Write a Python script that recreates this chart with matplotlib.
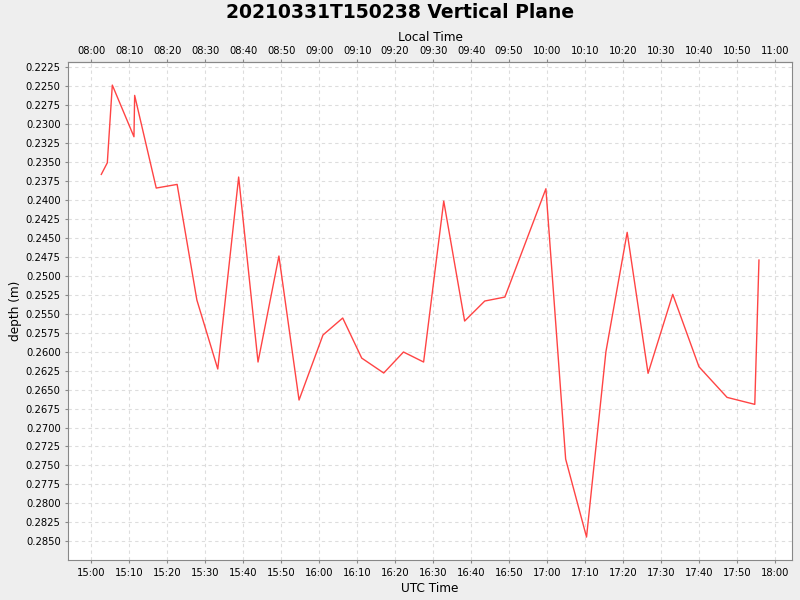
import datetime
import matplotlib
matplotlib.use("Agg")
import matplotlib.pyplot as plt
import matplotlib.dates as mdates

# UTC times of samples and depth values (m)
utc_times = ["15:02:38", "15:04:13", "15:05:32", "15:11:14", "15:11:25", "15:17:06",
             "15:22:36", "15:27:48", "15:33:18", "15:38:48", "15:43:54", "15:49:24",
             "15:54:42", "16:01:00", "16:06:12", "16:11:12", "16:17:00", "16:22:12",
             "16:27:30", "16:32:48", "16:38:18", "16:43:36", "16:48:54", "16:59:42",
             "17:04:54", "17:10:24", "17:15:30", "17:21:06", "17:26:36", "17:33:06",
             "17:40:00", "17:47:24", "17:54:42", "17:55:48"]
depth = [0.23664, 0.23511, 0.22487, 0.23168, 0.22623, 0.23844,
         0.23796, 0.25320, 0.26229, 0.23699, 0.26137, 0.24740,
         0.26638, 0.25781, 0.25557, 0.26085, 0.26282, 0.26005,
         0.26137, 0.24016, 0.25597, 0.25333, 0.25281, 0.23853,
         0.27416, 0.28444, 0.26002, 0.24428, 0.26286, 0.25245,
         0.26199, 0.26603, 0.26695, 0.24793]
y_ticks = [round(0.2225 + 0.0025 * i, 4) for i in range(26)]

base = datetime.datetime(2021, 3, 31)
times = [base + datetime.timedelta(hours=int(s[:2]), minutes=int(s[3:5]), seconds=int(s[6:]))
         for s in utc_times]

plt.rcParams['font.family'] = ['DejaVu Sans']
fig = plt.figure(figsize=(8, 6), dpi=100, facecolor='#EEEEEE')
ax = fig.add_axes([0.0854, 0.0667, 0.9046, 0.8293])
ax.set_facecolor('white')

ax.plot(times, depth, color='#FF4444', lw=1.0)

ax.set_xlim(base + datetime.timedelta(hours=14, minutes=53.95),
            base + datetime.timedelta(hours=18, minutes=4.5))
ax.set_ylim(0.28746, 0.22188)
ax.set_yticks(y_ticks)
ax.yaxis.set_major_formatter(matplotlib.ticker.FormatStrFormatter('%.4f'))

ax.xaxis.set_major_locator(mdates.MinuteLocator(byminute=range(0, 60, 10)))
ax.xaxis.set_major_formatter(mdates.DateFormatter('%H:%M'))

# local time axis on top (UTC - 7h)
off = 7 / 24
sec = ax.secondary_xaxis('top', functions=(lambda x: x - off, lambda x: x + off))
sec.xaxis.set_major_locator(mdates.MinuteLocator(byminute=range(0, 60, 10)))
sec.xaxis.set_major_formatter(mdates.DateFormatter('%H:%M'))
sec.set_xlabel('Local Time', fontsize=8.7, labelpad=4)
sec.tick_params(labelsize=7.2, length=2.5, color='#888888', pad=2)
sec.spines['top'].set_color('#888888')

ax.grid(True, color='#DDDDDD', linestyle=(0, (3, 3)), linewidth=0.8)
for side in ['left', 'bottom', 'right', 'top']:
    ax.spines[side].set_color('#888888')
ax.tick_params(labelsize=7.2, length=2.5, color='#888888', pad=3)

ax.set_xlabel('UTC Time', fontsize=8.7, labelpad=3)
ax.set_ylabel('depth (m)', fontsize=8.7, labelpad=3)
fig.suptitle('20210331T150238 Vertical Plane', fontsize=13.5, fontweight='bold', y=0.995)

fig.savefig('out.png', dpi=100, facecolor=fig.get_facecolor())
